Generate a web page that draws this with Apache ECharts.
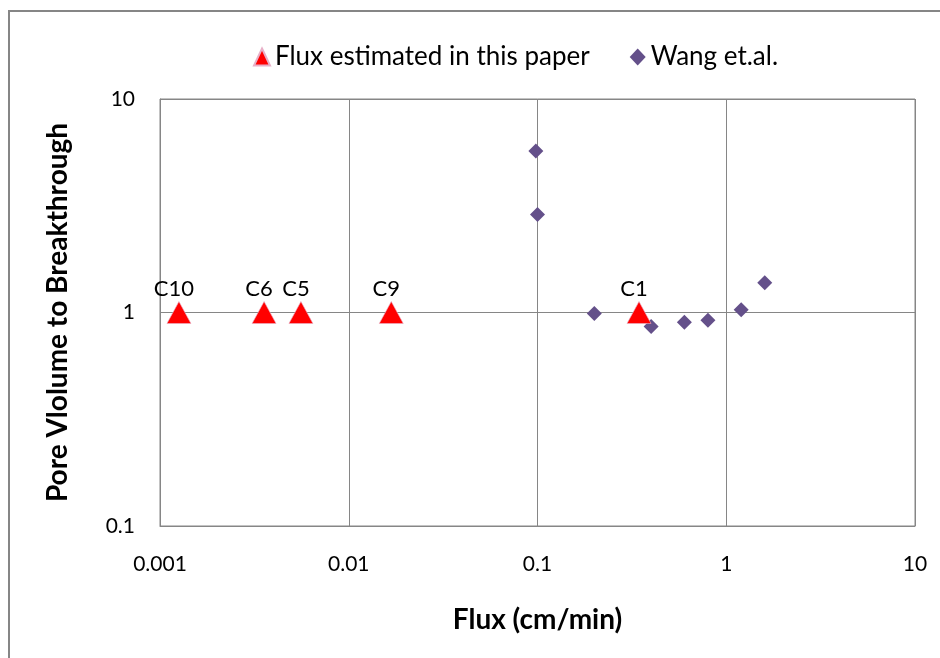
<!DOCTYPE html>
<html>
<head>
<meta charset="utf-8">
<script src="https://cdn.jsdelivr.net/npm/echarts@6/dist/echarts.min.js"></script>
<style>
  html, body { margin: 0; padding: 0; background: #fff; }
  #chart { width: 940px; height: 658px; }
</style>
</head>
<body>
<div id="chart"></div>
<script>
// Columns tested in this study (flux estimated, PV to breakthrough)
const columnNames = ['C10', 'C6', 'C5', 'C9', 'C1'];
const columnFlux = [0.00126, 0.00356, 0.00558, 0.0168, 0.345];
const columnPV = [1, 1, 1, 1, 1];

// Wang et al. reference measurements
const wangFlux = [0.098, 0.1, 0.2, 0.4, 0.6, 0.8, 1.2, 1.6];
const wangPV = [5.7, 2.88, 0.99, 0.86, 0.9, 0.92, 1.03, 1.38];

const xTicks = [0.001, 0.01, 0.1, 1, 10];
const yTicks = [0.1, 1, 10];

const FONT = 'Lato, "Open Sans", sans-serif';
const GRAY = '#868686';

const chart = echarts.init(document.getElementById('chart'), null, { renderer: 'canvas' });

const ownPoints = columnFlux.map((x, i) => ({ name: columnNames[i], value: [x, columnPV[i]] }));
const wangPoints = wangFlux.map((x, i) => [x, wangPV[i]]);

const tickFormatter = ticks => v => {
  const t = ticks.find(k => Math.abs(Math.log10(k) - Math.log10(v)) < 1e-6);
  return t !== undefined ? String(t) : '';
};

chart.setOption({
  backgroundColor: '#ffffff',
  animation: false,
  graphic: [{
    type: 'rect',
    shape: { x: 9, y: 11, width: 1200, height: 1200 },
    style: { fill: 'none', stroke: GRAY, lineWidth: 2 },
    silent: true
  }],
  legend: {
    left: 248,
    top: 39,
    itemWidth: 16,
    itemHeight: 17,
    itemGap: 40,
    textStyle: { fontFamily: FONT, fontSize: 26, color: '#000' },
    data: [
      { name: 'Flux estimated in this paper', icon: 'triangle' },
      { name: 'Wang et.al.', icon: 'diamond' }
    ]
  },
  grid: {
    left: 160, right: 25, top: 99, bottom: 132,
    show: true, borderColor: GRAY, borderWidth: 1, backgroundColor: 'transparent'
  },
  xAxis: {
    type: 'log', logBase: 10,
    min: xTicks[0], max: xTicks[xTicks.length - 1],
    name: 'Flux (cm/min)',
    nameLocation: 'middle', nameGap: 80,
    nameTextStyle: { fontFamily: FONT, fontSize: 28, fontWeight: 'bold', color: '#000' },
    axisLine: { show: true, lineStyle: { color: GRAY, width: 1 } },
    axisTick: { show: false },
    splitLine: { show: true, lineStyle: { color: GRAY, width: 1 } },
    axisLabel: {
      margin: 28, fontFamily: FONT, fontSize: 21, color: '#000',
      formatter: tickFormatter(xTicks)
    }
  },
  yAxis: {
    type: 'log', logBase: 10,
    min: yTicks[0], max: yTicks[yTicks.length - 1],
    name: 'Pore Vlolume to Breakthrough',
    nameLocation: 'middle', nameGap: 88,
    nameTextStyle: { fontFamily: FONT, fontSize: 28, fontWeight: 'bold', color: '#000' },
    axisLine: { show: true, lineStyle: { color: GRAY, width: 1 } },
    axisTick: { show: false },
    splitLine: { show: true, lineStyle: { color: GRAY, width: 1 } },
    axisLabel: {
      margin: 25, fontFamily: FONT, fontSize: 21, color: '#000',
      formatter: tickFormatter(yTicks)
    }
  },
  series: [
    {
      name: 'Wang et.al.',
      type: 'scatter',
      symbol: 'diamond',
      symbolSize: 15,
      itemStyle: { color: '#64508A', opacity: 1 },
      data: wangPoints,
      z: 2
    },
    {
      name: 'Flux estimated in this paper',
      type: 'scatter',
      symbol: 'triangle',
      symbolSize: [24, 22],
      itemStyle: { color: '#FF0000', opacity: 1, borderColor: '#E8B0C8', borderWidth: 0.6 },
      data: ownPoints,
      z: 3,
      label: {
        show: true,
        position: 'top',
        distance: 1,
        offset: [-5, 0],
        fontFamily: FONT, fontSize: 22, color: '#000',
        formatter: p => p.name
      }
    }
  ]
});
</script>
</body>
</html>
